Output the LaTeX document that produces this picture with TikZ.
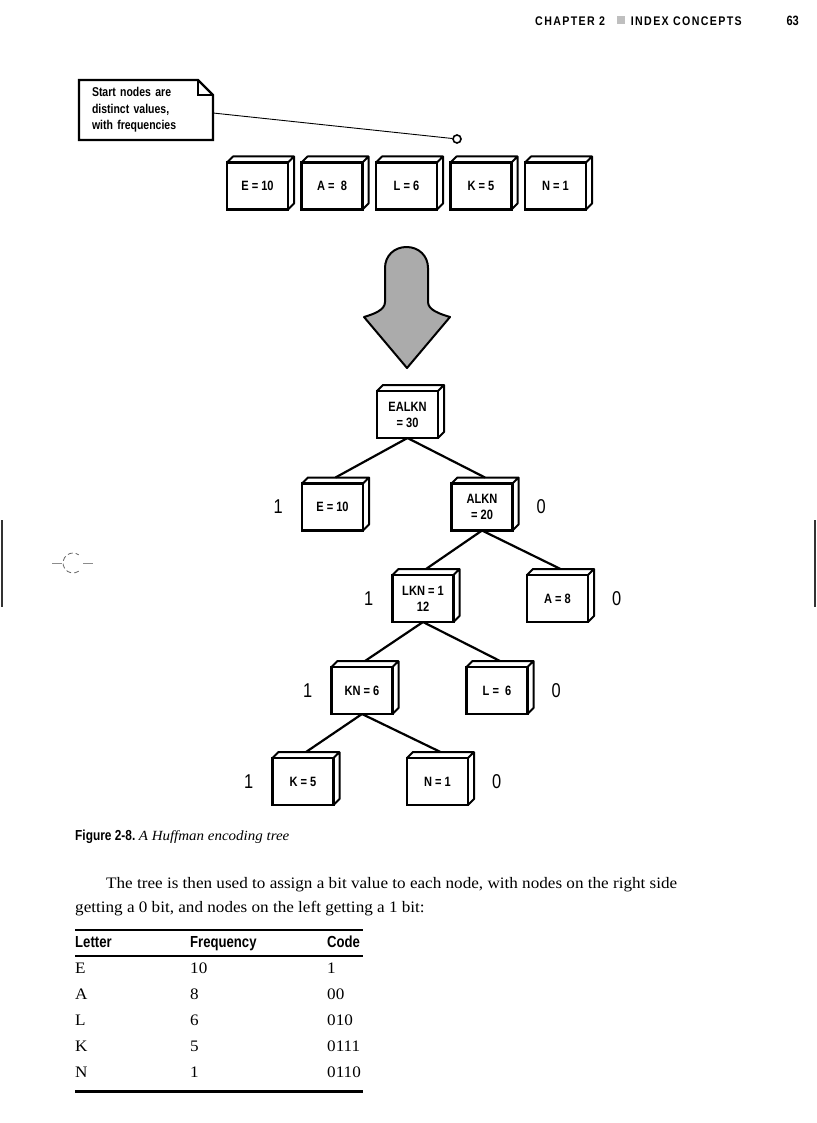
\documentclass[tikz,border=0pt]{standalone}
\usepackage{fontspec}
\usepackage{tikz}
\usetikzlibrary{positioning}
\setmainfont[FakeStretch=1.07]{Liberation Serif}
\newfontfamily\condsf[FakeStretch=0.82]{Liberation Sans}
\newfontfamily\headsf[FakeStretch=0.85,LetterSpace=11]{Liberation Sans}

\tikzset{
  cubebox/.style={draw, line width=2.2pt, fill=white, minimum width=61pt,
    minimum height=47pt, inner sep=0pt, outer sep=0pt, align=center,
    font=\condsf\bfseries\fontsize{13.5}{16}\selectfont},
  bit/.style={inner sep=0pt, font=\condsf\fontsize{20}{20}\selectfont},
  branch/.style={line width=2.2pt},
  body/.style={inner sep=0pt, anchor=base west, font=\fontsize{16}{18}\selectfont},
  tabhead/.style={inner sep=0pt, anchor=base west, font=\condsf\bfseries\fontsize{16}{18}\selectfont},
}
% depth faces of a box
\newcommand\cubeside[1]{%
  \draw[line width=2pt, line join=round] (#1.north west) -- ++(6,-6)
    -- ([shift={(6,-6)}]#1.north east) -- ([shift={(6,-6)}]#1.south east)
    -- (#1.south east) (#1.north east) -- ++(6,-6);}

\begin{document}
\begin{tikzpicture}[x=1pt, y=-1pt]
  \useasboundingbox (0,0) rectangle (816,1123);
  \fill[white] (0,0) rectangle (816,1123);

  % running head
  \node[inner sep=0pt, anchor=base west, font=\headsf\bfseries\fontsize{12.5}{12}\selectfont] (chap) at (535,26) {CHAPTER 2};
  \fill[black!25] (617,16.5) rectangle (624.5,24);
  \node[inner sep=0pt, anchor=base east, font=\headsf\bfseries\fontsize{12.5}{12}\selectfont] (title) at (742,26) {INDEX CONCEPTS};
  \node[inner sep=0pt, anchor=base east, font=\condsf\bfseries\fontsize{13.5}{13}\selectfont] (page) at (799,26) {63};

  % crop marks
  \draw[black!80, line width=1.2pt] (2,520) -- (2,607);
  \draw[black!80, line width=1.2pt] (815,520) -- (815,607);
  \draw[black!45, line width=0.8pt] (52,563) -- (62,563) (83,563) -- (93,563);
  \draw[black!60, line width=0.8pt, dash pattern=on 5pt off 3pt] (73,563) ++(55:10) arc[start angle=55, end angle=305, radius=10];

  % callout
  \node[inner xsep=13pt, inner ysep=0pt, outer sep=0pt, minimum width=134pt, minimum height=60pt,
    anchor=north west, text width=108pt, align=left,
    font=\condsf\bfseries\fontsize{12.8}{16.5}\selectfont] (note) at (79,80)
    {Start nodes are\\distinct values,\\with frequencies};
  \draw[line width=2.4pt] (note.north west) -- ([xshift=-15pt]note.north east)
    -- ([yshift=-15pt]note.north east) -- (note.south east) -- (note.south west) -- cycle;
  \draw[line width=2pt] ([xshift=-15pt]note.north east) -- ++(0,15) -- ([yshift=-15pt]note.north east);
  \node[circle, draw, line width=1.6pt, minimum size=8pt, inner sep=0pt] (pin) at (457,139) {};
  \draw[line width=0.9pt] ([yshift=-3pt]note.east) -- (pin);

  % start nodes
  \foreach[count=\i from 0] \nm/\txt in {se/E = 10, sa/A = \ 8, sl/L = 6, sk/K = 5, sn/N = 1} {
    \node[cubebox] (\nm) at (257.5+74.5*\i, 186) {\txt};
    \cubeside{\nm}
  }

  % big arrow
  \filldraw[fill=black!33, line width=2pt, line join=round]
    (385,302) -- (385,268) .. controls (385,256) and (394,247) .. (406.5,247)
    .. controls (419,247) and (428,256) .. (428,268) -- (428,302)
    .. controls (428,310) and (440,314) .. (450,317) -- (407,368)
    -- (364,317) .. controls (374,314) and (385,310) .. (385,302) -- cycle;

  % tree
  \foreach \nm/\xx/\yy/\txt in {root/407.5/414.5/{EALKN\\= 30},
      e10/332.5/507/E = 10, alkn/482/507/{ALKN\\= 20},
      lkn/423/598.5/{LKN = 1\\12}, a8/557.5/598.5/A = 8,
      kn/362/690.5/KN = 6, l6/497/690.5/L = \ 6,
      k5/303/781.5/K = 5, n1/437.5/781.5/N = 1} {
    \node[cubebox] (\nm) at (\xx,\yy) {\txt};
  }
  \foreach \pp/\cc in {root/e10, root/alkn, alkn/lkn, alkn/a8, lkn/kn, lkn/l6, kn/k5, kn/n1}
    \draw[branch] (\pp.south) -- ([shift={(3,-6)}]\cc.north);
  \foreach \nm in {root, e10, alkn, lkn, a8, kn, l6, k5, n1} {
    \cubeside{\nm}
  }

  % bit labels
  \foreach \nm in {e10, lkn, kn, k5}
    \node[bit, left=19pt of \nm] (one-\nm) {1};
  \foreach \nm in {alkn, a8, l6, n1}
    \node[bit, right=24pt of \nm] (zero-\nm) {0};

  % caption and text
  \node[inner sep=0pt, anchor=base west] (cap) at (75,840)
    {{\condsf\bfseries\fontsize{14.5}{16}\selectfont Figure 2-8.} {\fontsize{14}{18}\selectfont\itshape A Huffman encoding tree}};
  \node[body] (par1) at (106,888) {The tree is then used to assign a bit value to each node, with nodes on the right side};
  \node[body] (par2) at (75,912) {getting a 0 bit, and nodes on the left getting a 1 bit:};

  % table
  \draw[line width=2.4pt] (75,930) -- (363,930);
  \node[tabhead] (h1) at (75,947) {Letter};
  \node[tabhead] (h2) at (190,947) {Frequency};
  \node[tabhead] (h3) at (327,947) {Code};
  \draw[line width=1.4pt] (75,956) -- (363,956);
  \foreach[count=\i] \ll/\ff/\cc in {E/10/1, A/8/00, L/6/010, K/5/0111, N/1/0110} {
    \node[body] (let\i) at (75, 947+26*\i) {\ll};
    \node[body] (frq\i) at (190, 947+26*\i) {\ff};
    \node[body] (code\i) at (327, 947+26*\i) {\cc};
  }
  \draw[line width=3pt] (75,1091) -- (363,1091);
\end{tikzpicture}
\end{document}
